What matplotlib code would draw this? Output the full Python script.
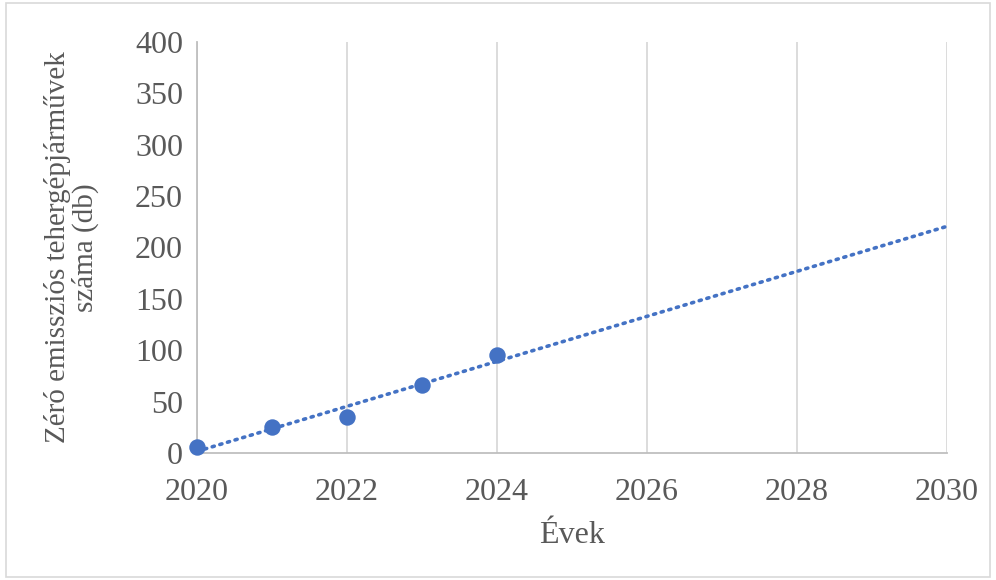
import matplotlib
matplotlib.use("Agg")
import matplotlib.pyplot as plt
import numpy as np
from matplotlib.patches import Rectangle

years = [2020, 2021, 2022, 2023, 2024]
counts = [6, 25, 35, 66, 95]
x_ticks = [2020, 2022, 2024, 2026, 2028, 2030]
y_ticks = [0, 50, 100, 150, 200, 250, 300, 350, 400]

plt.rcParams['font.family'] = ['Liberation Serif', 'DejaVu Serif']
text_color = '#595959'
blue = '#4472C4'

fig = plt.figure(figsize=(9.96, 5.8), dpi=100)
ax = fig.add_axes([197/996, 1-453/580, (947-197)/996, (453-42)/580])

# trendline (linear fit)
coef = np.polyfit(years, counts, 1)
tx = np.array([2020, 2030])
ax.plot(tx, np.polyval(coef, tx), linestyle=(0, (0.6, 1.6)), dash_capstyle='round',
        color=blue, linewidth=2.6, zorder=3)
ax.scatter(years, counts, s=140, color=blue, zorder=4, linewidths=0, clip_on=False)

ax.set_xlim(2020, 2030)
ax.set_ylim(0, 400)
ax.set_xticks(x_ticks)
ax.set_yticks(y_ticks)
ax.xaxis.grid(True, color='#d9d9d9', linewidth=1.3)
ax.yaxis.grid(False)
ax.set_axisbelow(True)
for s in ['top', 'right']:
    ax.spines[s].set_visible(False)
ax.spines['left'].set_color('#bfbfbf')
ax.spines['left'].set_linewidth(1.3)
ax.spines['bottom'].set_color('#bfbfbf')
ax.spines['bottom'].set_linewidth(1.3)
ax.tick_params(axis='both', length=0, labelsize=23, colors=text_color, pad=10)
ax.tick_params(axis='x', pad=18)

ax.set_xlabel('Évek', fontsize=23, color=text_color, labelpad=10)
ax.set_ylabel('Zéró emissziós tehergépjárművek\nszáma (db)', fontsize=21,
              color=text_color, linespacing=1.05, labelpad=26)

fig.patches.append(Rectangle((0.006, 0.006), 0.988, 0.988, transform=fig.transFigure,
                             fill=False, edgecolor='#d9d9d9', linewidth=1.2))

fig.savefig('out.png', dpi=100)
